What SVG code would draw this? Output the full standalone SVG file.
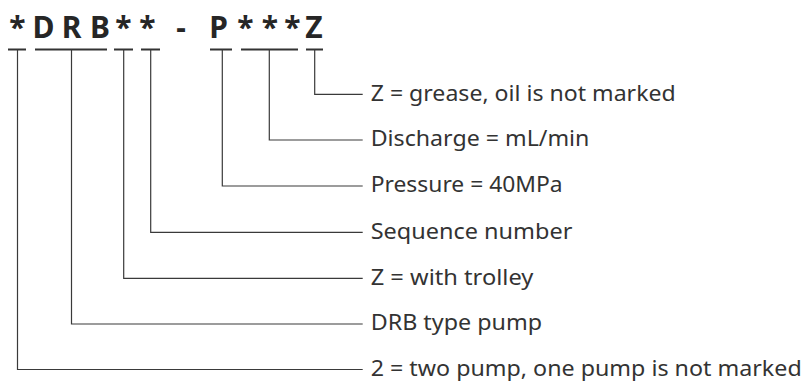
<svg xmlns="http://www.w3.org/2000/svg" width="805" height="384" viewBox="0 0 805 384">
<style>
.t{font-family:"Noto Sans","Open Sans",sans-serif;font-weight:bold;font-size:30px;fill:#262626;text-anchor:middle}
.l{font-family:"Noto Sans","Open Sans",sans-serif;font-size:22px;fill:#333}
.c{fill:none;stroke:#3a3a3a;stroke-width:1.2}
.b{fill:none;stroke:#333;stroke-width:2}
</style>
<rect width="805" height="384" fill="#fff"/>
<g id="code">
<text class="t" x="17.5" y="37.7">*</text>
<text class="t" x="43.5" y="37.7">D</text>
<text class="t" x="71.5" y="37.7">R</text>
<text class="t" x="100" y="37.7">B</text>
<text class="t" x="123.5" y="37.7">*</text>
<text class="t" x="147.5" y="37.7">*</text>
<text class="t" x="181" y="37.7">-</text>
<text class="t" x="218.5" y="37.7">P</text>
<text class="t" x="245.5" y="37.7">*</text>
<text class="t" x="270" y="37.7">*</text>
<text class="t" x="292.5" y="37.7">*</text>
<text class="t" x="314" y="37.7">Z</text>
</g>
<g id="bars">
<path class="b" d="M8 49.5H26M35 49.5H107M114 49.5H133M141 49.5H160M210 49.5H232M241 49.5H298M306 49.5H323"/>
</g>
<g id="connectors">
<path class="c" d="M314.7 49.5V94.3H362.7"/>
<path class="c" d="M269.3 49.5V140H362.7"/>
<path class="c" d="M222.3 49.5V186H362.7"/>
<path class="c" d="M150.7 49.5V232.3H362.7"/>
<path class="c" d="M123.7 49.5V278.3H362.7"/>
<path class="c" d="M71.5 49.5V324H362.7"/>
<path class="c" d="M17.5 49.5V369.5H362.7"/>
</g>
<g id="label1"><text class="l" x="370.7" y="100.5" textLength="305" lengthAdjust="spacingAndGlyphs">Z = grease, oil is not marked</text></g>
<g id="label2"><text class="l" x="370.7" y="146.2" textLength="218.7" lengthAdjust="spacingAndGlyphs">Discharge = mL/min</text></g>
<g id="label3"><text class="l" x="370.7" y="192.2" textLength="192" lengthAdjust="spacingAndGlyphs">Pressure = 40MPa</text></g>
<g id="label4"><text class="l" x="370.7" y="238.5" textLength="201.7" lengthAdjust="spacingAndGlyphs">Sequence number</text></g>
<g id="label5"><text class="l" x="370.7" y="284.5" textLength="162.7" lengthAdjust="spacingAndGlyphs">Z = with trolley</text></g>
<g id="label6"><text class="l" x="370.7" y="330.2" textLength="171.3" lengthAdjust="spacingAndGlyphs">DRB type pump</text></g>
<g id="label7"><text class="l" x="370.7" y="375.7" textLength="431" lengthAdjust="spacingAndGlyphs">2 = two pump, one pump is not marked</text></g>
</svg>
